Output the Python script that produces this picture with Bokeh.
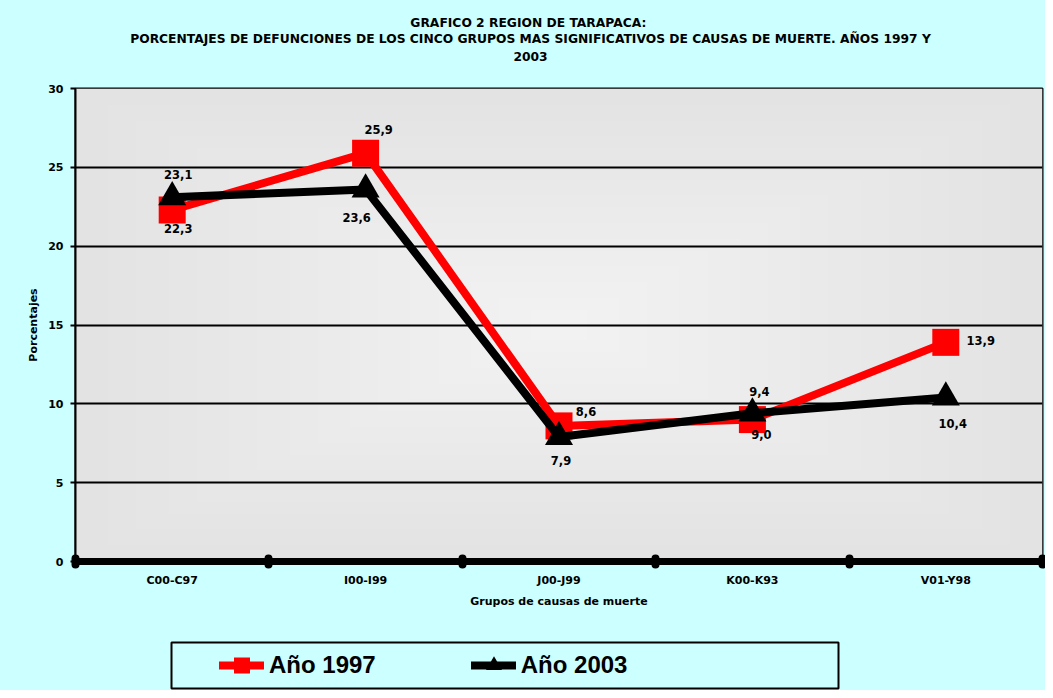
import numpy as np
from bokeh.plotting import figure
from bokeh.layouts import column
from bokeh.models import Range1d, FixedTicker, Label, Legend, LegendItem, ColumnDataSource
from bokeh.embed import file_html
from bokeh.resources import INLINE
from bokeh.core.properties import value

# ---------------- data ----------------
categories = ["C00-C97", "I00-I99", "J00-J99", "K00-K93", "V01-Y98"]
pct_1997 = [22.3, 25.9, 8.6, 9.0, 13.9]
pct_2003 = [23.1, 23.6, 7.9, 9.4, 10.4]
y_ticks = [0, 5, 10, 15, 20, 25, 30]
series_names = ["Año 1997", "Año 2003"]
title_lines = [
    "GRAFICO 2  REGION DE TARAPACA:",
    "PORCENTAJES DE DEFUNCIONES DE LOS CINCO GRUPOS MAS SIGNIFICATIVOS DE CAUSAS DE MUERTE. AÑOS 1997 Y",
    "2003",
]
x_title = "Grupos de causas de muerte"
y_title = "Porcentajes"

# label offsets (screen px) for the data labels
off_1997_x = [6, 13, 27, 9, 35]
off_1997_y = [19, -24, -14, 15, -2]
off_2003_x = [6, -9, 2, 7, 7]
off_2003_y = [-23, 28, 24, -22, 26]

FONT = "DejaVu Sans"
CYAN = "#CCFFFF"
RED = "#FF0000"
W = 1045
BL, BR = 75, 3            # left / right borders of every strip (frames are aligned)
TOP_H, MAIN_H, BOT_H = 80, 541, 69

n = len(categories)
centers = [i + 0.5 for i in range(n)]
bounds = list(range(n + 1))


def fmt(v):
    return f"{v:.1f}".replace(".", ",")


def blank_fig(h):
    # x range in figure pixels over the frame, so data x == canvas x
    f = figure(width=W, height=h, output_backend="svg", toolbar_location=None,
               x_range=Range1d(BL, W - BR), y_range=Range1d(0, h),
               x_axis_type=None, y_axis_type=None,
               min_border_left=BL, min_border_right=BR, min_border_top=0, min_border_bottom=0,
               border_fill_color=CYAN, background_fill_color=CYAN,
               outline_line_color=None)
    f.grid.visible = False
    return f


# ---------------- title strip ----------------
top = blank_fig(TOP_H)
for txt, ty in zip(title_lines, [TOP_H - 22, TOP_H - 38.5, TOP_H - 56]):
    top.add_layout(Label(x=530, y=ty, text=txt,
                         text_align="center", text_baseline="middle", text_font=FONT,
                         text_font_style="bold", text_font_size="12.3px", text_color="black"))

# ---------------- main chart ----------------
p = figure(width=W, height=MAIN_H, output_backend="svg", toolbar_location=None,
           x_range=Range1d(0, n), y_range=Range1d(y_ticks[0], y_ticks[-1]),
           min_border_left=BL, min_border_right=BR, min_border_top=8, min_border_bottom=60,
           border_fill_color=CYAN, background_fill_color="#E6E6E6",
           outline_line_color="black", outline_line_width=2)

# gradient plot background (style only)
ny, nx = 120, 240
yy, xx = np.mgrid[-1:1:ny * 1j, -1:1:nx * 1j]
d = np.clip(np.maximum(np.abs(xx), np.abs(yy)), 0, 1)
g = (0xF3 - (0xF3 - 0xE3) * d).astype(np.uint8)
img = np.empty((ny, nx), dtype=np.uint32)
view = img.view(dtype=np.uint8).reshape((ny, nx, 4))
view[:, :, 0] = g
view[:, :, 1] = g
view[:, :, 2] = g
view[:, :, 3] = 255
p.image_rgba(image=[img], x=0, y=y_ticks[0], dw=n, dh=y_ticks[-1] - y_ticks[0], level="image")

src97 = ColumnDataSource(dict(x=centers, y=pct_1997, lab=[fmt(v) for v in pct_1997],
                              dx=off_1997_x, dy=off_1997_y))
src03 = ColumnDataSource(dict(x=centers, y=pct_2003, lab=[fmt(v) for v in pct_2003],
                              dx=off_2003_x, dy=off_2003_y))

line97 = dict(line_color=RED, line_width=8, line_join="round", line_cap="round")
mark97 = dict(marker="square", fill_color=RED, line_color=None)
line03 = dict(line_color="black", line_width=8, line_join="round", line_cap="round")
mark03 = dict(marker="triangle", fill_color="black", line_color=None)

p.line("x", "y", source=src97, **line97)
p.scatter("x", "y", source=src97, size=27, **mark97)
p.line("x", "y", source=src03, **line03)
p.scatter("x", "y", source=src03, size=28, **mark03)

for src in (src97, src03):
    p.text("x", "y", text="lab", source=src, x_offset="dx", y_offset="dy",
           text_align="center", text_baseline="middle", text_font=value(FONT),
           text_font_style="bold", text_font_size="11.5px", text_color="black")

xa = p.xaxis[0]
xa.ticker = FixedTicker(ticks=centers, minor_ticks=bounds)
xa.major_label_overrides = {c: cat for c, cat in zip(centers, categories)}
xa.axis_line_width = 7
xa.axis_line_color = "black"
xa.major_tick_line_color = None
xa.major_tick_in = 0
xa.major_tick_out = 0
xa.minor_tick_line_color = "black"
xa.minor_tick_line_width = 8
xa.minor_tick_line_cap = "round"
xa.minor_tick_in = 3
xa.minor_tick_out = 3
xa.major_label_standoff = 9
xa.major_label_text_font = FONT
xa.major_label_text_font_style = "bold"
xa.major_label_text_font_size = "11px"
xa.major_label_text_color = "black"
xa.axis_label = x_title
xa.axis_label_standoff = 5
xa.axis_label_text_font = FONT
xa.axis_label_text_font_style = "bold"
xa.axis_label_text_font_size = "11px"
xa.axis_label_text_color = "black"

ya = p.yaxis[0]
ya.ticker = FixedTicker(ticks=y_ticks, minor_ticks=[])
ya.axis_line_width = 2
ya.axis_line_color = "black"
ya.major_tick_line_width = 2
ya.major_tick_line_color = "black"
ya.major_tick_in = 0
ya.major_tick_out = 5
ya.minor_tick_line_color = None
ya.major_label_standoff = 7
ya.major_label_text_font = FONT
ya.major_label_text_font_style = "bold"
ya.major_label_text_font_size = "11px"
ya.major_label_text_color = "black"
ya.axis_label = y_title
ya.axis_label_standoff = 5
ya.axis_label_text_font = FONT
ya.axis_label_text_font_style = "bold"
ya.axis_label_text_font_size = "11px"
ya.axis_label_text_color = "black"

p.xgrid.visible = False
p.ygrid.grid_line_color = "black"
p.ygrid.grid_line_width = 2

# ---------------- legend strip ----------------
bot = blank_fig(BOT_H)
bot.quad(left=171, right=838, bottom=2, top=48, fill_color=None,
         line_color="black", line_width=2)
# proxies: same series data, lying outside this strip's visible range
lg97 = [bot.line("x", "y", source=src97, **line97),
        bot.scatter("x", "y", source=src97, **mark97)]
lg03 = [bot.line("x", "y", source=src03, **line03),
        bot.scatter("x", "y", source=src03, **mark03)]
leg = Legend(items=[LegendItem(label=series_names[0], renderers=lg97),
                    LegendItem(label=series_names[1], renderers=lg03)],
             location=(219 - BL, 5), orientation="horizontal", padding=0, margin=0,
             spacing=95, glyph_width=45, glyph_height=40, label_standoff=5,
             label_text_font="Liberation Sans", label_text_font_style="bold",
             label_text_font_size="24px", label_text_color="black",
             border_line_color=None, background_fill_alpha=0)
bot.add_layout(leg, "center")

layout = column(top, p, bot, spacing=0, styles={"background-color": CYAN})
open("out.html", "w").write(file_html(layout, INLINE))
